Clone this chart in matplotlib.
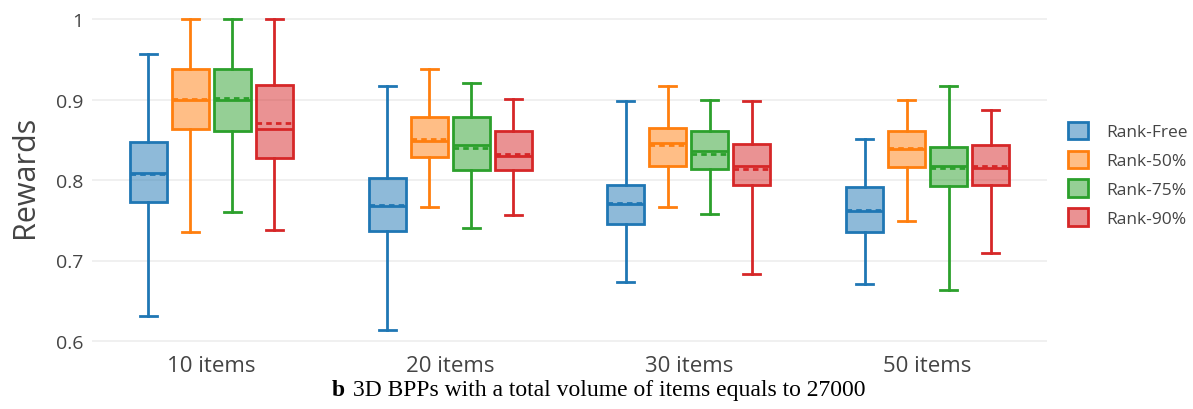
import matplotlib
matplotlib.use('Agg')
import matplotlib.pyplot as plt
from matplotlib.patches import Patch
from matplotlib.colors import to_rgba

# %% Data

groups = ['10 items', '20 items', '30 items', '50 items']
methods = ['Rank-Free', 'Rank-50%', 'Rank-75%', 'Rank-90%']
colours = ['#1f77b4', '#ff7f0e', '#2ca02c', '#d62728']

#Per method: one value per group
whisLo = {'Rank-Free': [0.631, 0.614, 0.673, 0.671],
          'Rank-50%': [0.735, 0.766, 0.767, 0.749],
          'Rank-75%': [0.760, 0.740, 0.758, 0.663],
          'Rank-90%': [0.738, 0.756, 0.683, 0.709]}
q1 = {'Rank-Free': [0.773, 0.737, 0.745, 0.736],
      'Rank-50%': [0.863, 0.828, 0.817, 0.816],
      'Rank-75%': [0.861, 0.812, 0.814, 0.792],
      'Rank-90%': [0.827, 0.812, 0.794, 0.794]}
median = {'Rank-Free': [0.809, 0.768, 0.770, 0.761],
          'Rank-50%': [0.900, 0.849, 0.846, 0.839],
          'Rank-75%': [0.900, 0.843, 0.836, 0.817],
          'Rank-90%': [0.864, 0.830, 0.817, 0.815]}
mean = {'Rank-Free': [0.808, 0.769, 0.771, 0.763],
        'Rank-50%': [0.901, 0.851, 0.843, 0.840],
        'Rank-75%': [0.902, 0.840, 0.832, 0.815],
        'Rank-90%': [0.871, 0.832, 0.814, 0.817]}
q3 = {'Rank-Free': [0.847, 0.802, 0.794, 0.791],
      'Rank-50%': [0.938, 0.878, 0.865, 0.861],
      'Rank-75%': [0.938, 0.878, 0.861, 0.841],
      'Rank-90%': [0.918, 0.861, 0.845, 0.844]}
whisHi = {'Rank-Free': [0.957, 0.917, 0.898, 0.851],
          'Rank-50%': [1.000, 0.938, 0.917, 0.900],
          'Rank-75%': [1.000, 0.920, 0.899, 0.917],
          'Rank-90%': [1.000, 0.901, 0.898, 0.887]}

yTicks = [0.6, 0.7, 0.8, 0.9, 1.0]
yTickLabels = ['0.6', '0.7', '0.8', '0.9', '1']

# %% Figure

W, H = 1193, 410
fig = plt.figure(figsize=(W / 100, H / 100), dpi=100)
ax = fig.add_axes([92 / W, 1 - 346 / H, (1047 - 92) / W, (346 - 8) / H])

offsets = [-0.264, -0.088, 0.088, 0.264]
boxWidth = 0.155

for mInd, name in enumerate(methods):
    col = colours[mInd]
    stats = []
    for gInd in range(len(groups)):
        stats.append({'whislo': whisLo[name][gInd], 'q1': q1[name][gInd],
                      'med': median[name][gInd], 'q3': q3[name][gInd],
                      'whishi': whisHi[name][gInd], 'mean': mean[name][gInd],
                      'fliers': []})
    pos = [g + offsets[mInd] for g in range(len(groups))]
    ax.bxp(stats, positions=pos, widths=boxWidth, capwidths=0.071,
           patch_artist=True, showmeans=True, meanline=True,
           showfliers=False, manage_ticks=False,
           boxprops=dict(facecolor=to_rgba(col, 0.5), edgecolor=col, linewidth=2),
           whiskerprops=dict(color=col, linewidth=2),
           capprops=dict(color=col, linewidth=2),
           medianprops=dict(color=col, linewidth=2),
           meanprops=dict(color=col, linewidth=2, linestyle=(0, (2, 1.5))))

ax.set_xlim(-0.5, 3.5)
ax.set_ylim(0.595, 1.015)
ax.set_xticks(range(len(groups)))
ax.set_xticklabels(groups, fontsize=16, color='#444444', family='Open Sans')
ax.set_yticks(yTicks)
ax.set_yticklabels(yTickLabels, fontsize=14, color='#444444', family='Open Sans')
ax.tick_params(axis='both', length=0, pad=6)
ax.tick_params(axis='x', pad=7)
ax.grid(axis='y', color='#eeeeee', linewidth=1.2)
ax.set_axisbelow(True)
for sp in ax.spines.values():
    sp.set_visible(False)

ax.set_ylabel('Rewards', fontsize=22, color='#444444', family='Open Sans', labelpad=12)

#Legend
handles = [Patch(facecolor=to_rgba(c, 0.5), edgecolor=c, linewidth=2) for c in colours]
fig.legend(handles, methods, loc='upper left', bbox_to_anchor=(1052 / W, 1 - 107 / H),
           frameon=False, prop={'family': 'Open Sans', 'size': 12.5},
           labelcolor='#444444', handlelength=1.15, handleheight=1.15,
           handletextpad=1.1, labelspacing=0.6)

#Caption
fig.text(332 / W, 1 - 396 / H, 'b', fontsize=17, family='Liberation Serif',
         fontweight='bold', ha='left', va='baseline')
fig.text(353 / W, 1 - 396 / H, '3D BPPs with a total volume of items equals to 27000',
         fontsize=17, family='Liberation Serif', ha='left', va='baseline')

fig.savefig('out.png', dpi=100, facecolor='white')
